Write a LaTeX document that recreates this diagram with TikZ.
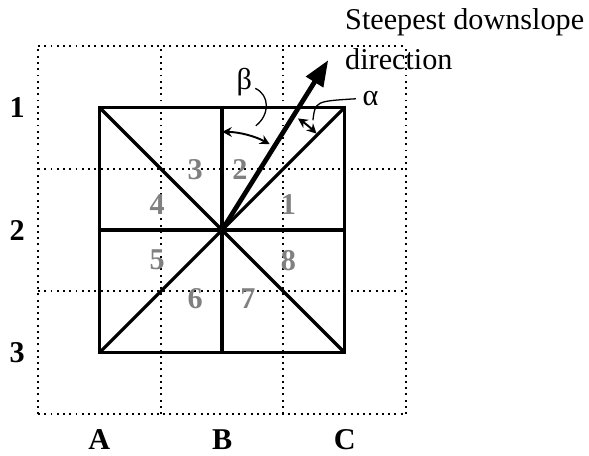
\documentclass[tikz,border=0pt]{standalone}
\usepackage{fontspec}
\setmainfont{Liberation Serif}
\usetikzlibrary{arrows.meta}

\tikzset{
    gridline/.style={line width=0.9pt, dash pattern=on 0.9pt off 2pt},
    cellline/.style={line width=1.5pt},
    axislabel/.style={font=\fontsize{14}{17}\selectfont\bfseries, inner sep=1pt},
    sectorlabel/.style={font=\fontsize{14}{17}\selectfont\bfseries, text=gray},
    anglearc/.style={line width=0.9pt, {Stealth[length=4.5pt,width=4.5pt]}-{Stealth[length=4.5pt,width=4.5pt]}}
}

\begin{document}
\begin{tikzpicture}

    \useasboundingbox (-3.62,-3.67) rectangle (5.98,3.75);

    % Dotted grid
    \foreach \p in {-3,-1,1,3} {
        \draw[gridline] (\p,-3) -- (\p,3);
        \draw[gridline] (-3,\p) -- (3,\p);
    }

    % Cell corners
    \coordinate (O) at (0,0);
    \coordinate (NW) at (-2,2);
    \coordinate (NE) at (2,2);
    \coordinate (SW) at (-2,-2);
    \coordinate (SE) at (2,-2);
    \coordinate (N) at (0,2);
    \coordinate (S) at (0,-2);
    \coordinate (W) at (-2,0);
    \coordinate (E) at (2,0);

    % Square and its eight sectors
    \draw[cellline] (SW) rectangle (NE);
    \draw[cellline] (SW) -- (NE);
    \draw[cellline] (NW) -- (SE);
    \draw[cellline] (N) -- (S);
    \draw[cellline] (W) -- (E);

    % Row and column labels
    \node[axislabel] (r1) at (-3.34,2) {1};
    \node[axislabel] (r2) at (-3.34,0) {2};
    \node[axislabel] (r3) at (-3.34,-2) {3};
    \node[axislabel] (cA) at (-2,-3.42) {A};
    \node[axislabel] (cB) at (0,-3.42) {B};
    \node[axislabel] (cC) at (2,-3.42) {C};

    % Sector numbers
    \node[sectorlabel] (s1) at (1.08,0.41) {1};
    \node[sectorlabel] (s2) at (0.29,0.98) {2};
    \node[sectorlabel] (s3) at (-0.44,0.98) {3};
    \node[sectorlabel] (s4) at (-1.06,0.41) {4};
    \node[sectorlabel] (s5) at (-1.06,-0.49) {5};
    \node[sectorlabel] (s6) at (-0.44,-1.12) {6};
    \node[sectorlabel] (s7) at (0.42,-1.12) {7};
    \node[sectorlabel] (s8) at (1.08,-0.49) {8};

    % Steepest downslope direction
    \coordinate (tip) at (1.73,2.77);
    \draw[line width=2.2pt, -{Triangle[length=12pt,width=9pt]}] (O) -- (tip);
    \node[anchor=north west, inner sep=0, align=left,
          font=\fontsize{14}{18.5}\selectfont] (dir) at (2.0,3.62)
          {Steepest downslope\\direction};

    % Angles
    \draw[anglearc] (90:1.6) arc[start angle=90, end angle=61, radius=1.6];
    \draw[anglearc] (55.8:2.2) arc[start angle=55.8, end angle=45.6, radius=2.2];

    \node[font=\fontsize{14}{17}\selectfont] (beta) at (0.36,2.42) {β};
    \node[font=\fontsize{14}{17}\selectfont] (alpha) at (2.42,2.14) {α};

    \coordinate (bfoot) at (0.55,1.70);
    \coordinate (afoot) at (1.48,1.79);
    \draw[line width=0.6pt] (0.54,2.31) .. controls (0.78,2.2) and (0.78,1.88) .. (bfoot);
    \draw[line width=0.6pt] (afoot) .. controls (1.52,2.10) .. (2.18,2.14);

\end{tikzpicture}
\end{document}
